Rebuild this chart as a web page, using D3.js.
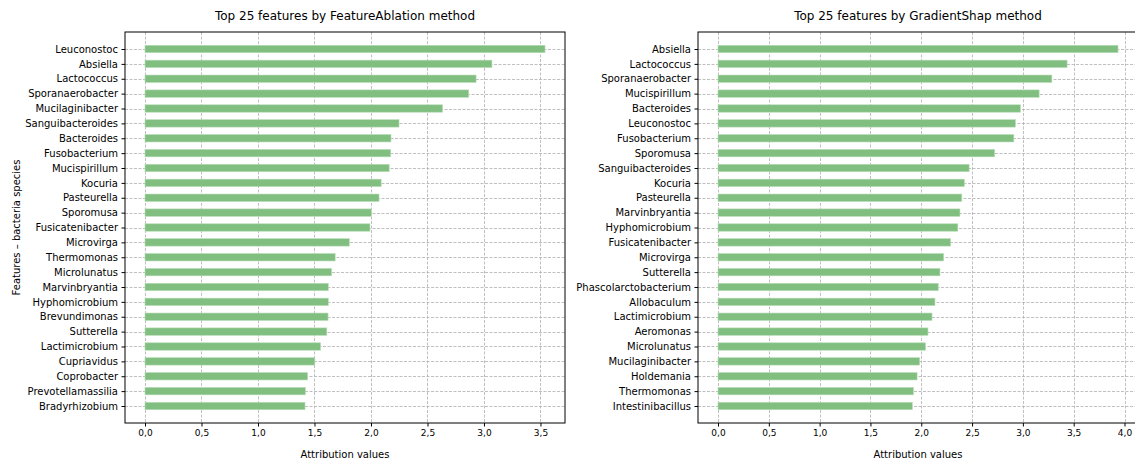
<!DOCTYPE html>
<html>
<head>
<meta charset="utf-8">
<script src="https://cdn.jsdelivr.net/npm/d3@7"></script>
<style>
  html, body { margin: 0; padding: 0; background: #fff; }
  svg { display: block; font-family: "DejaVu Sans", sans-serif; }
</style>
</head>
<body>
<svg id="chart" width="1135" height="460"></svg>
<script>
// ---- data ----
const ablationFeatures = ["Leuconostoc","Absiella","Lactococcus","Sporanaerobacter","Mucilaginibacter","Sanguibacteroides","Bacteroides","Fusobacterium","Mucispirillum","Kocuria","Pasteurella","Sporomusa","Fusicatenibacter","Microvirga","Thermomonas","Microlunatus","Marvinbryantia","Hyphomicrobium","Brevundimonas","Sutterella","Lactimicrobium","Cupriavidus","Coprobacter","Prevotellamassilia","Bradyrhizobium"];
const ablationValues = [3.54,3.07,2.93,2.865,2.633,2.248,2.177,2.174,2.161,2.09,2.071,2.004,1.991,1.808,1.683,1.651,1.622,1.622,1.62,1.609,1.554,1.503,1.439,1.419,1.416];

const shapFeatures = ["Absiella","Lactococcus","Sporanaerobacter","Mucispirillum","Bacteroides","Leuconostoc","Fusobacterium","Sporomusa","Sanguibacteroides","Kocuria","Pasteurella","Marvinbryantia","Hyphomicrobium","Fusicatenibacter","Microvirga","Sutterella","Phascolarctobacterium","Allobaculum","Lactimicrobium","Aeromonas","Microlunatus","Mucilaginibacter","Holdemania","Thermomonas","Intestinibacillus"];
const shapValues = [3.936,3.435,3.285,3.16,2.976,2.926,2.911,2.722,2.471,2.424,2.399,2.381,2.36,2.288,2.22,2.184,2.167,2.135,2.106,2.066,2.041,1.984,1.959,1.923,1.912];

const ablationTicks = [0,0.5,1,1.5,2,2.5,3,3.5];
const shapTicks = [0,0.5,1,1.5,2,2.5,3,3.5,4];

const titles = ["Top 25 features by FeatureAblation method", "Top 25 features by GradientShap method"];
const xLabel = "Attribution values";
const yLabel = "Features \u2013 bacteria species";

// ---- drawing ----
const svg = d3.select("#chart");
const fmt = v => d3.format(".1f")(v).replace(".", ",");

function panel(left, features, values, ticks, title, showYLabel) {
  const top = 32, bottom = 423, width = 440;
  const g = svg.append("g");
  const xmax = d3.max(values);
  const x = d3.scaleLinear().domain([-0.05 * xmax, 1.05 * xmax]).range([left, left + width]);
  const y = d3.scalePoint().domain(features).range([top, bottom]).padding(1.143);
  const bh = y.step() * 0.5;

  // grid
  g.append("g").selectAll("line.vx").data(ticks).join("line")
    .attr("x1", d => Math.round(x(d)) + 0.5).attr("x2", d => Math.round(x(d)) + 0.5)
    .attr("y1", top).attr("y2", bottom)
    .attr("stroke", "#b0b0b0").attr("stroke-width", 0.8).attr("stroke-dasharray", "3,1.5");
  g.append("g").selectAll("line.hy").data(features).join("line")
    .attr("x1", left).attr("x2", left + width)
    .attr("y1", d => Math.round(y(d)) + 0.5).attr("y2", d => Math.round(y(d)) + 0.5)
    .attr("stroke", "#b0b0b0").attr("stroke-width", 0.8).attr("stroke-dasharray", "3,1.5");

  // bars
  g.append("g").selectAll("rect").data(features).join("rect")
    .attr("x", x(0))
    .attr("y", d => y(d) - bh / 2)
    .attr("width", (d, i) => x(values[i]) - x(0))
    .attr("height", bh)
    .attr("fill", "#80bf80")
    .attr("stroke", "#b8dcb8").attr("stroke-width", 0.6);

  // frame
  g.append("rect").attr("x", left).attr("y", top).attr("width", width).attr("height", bottom - top)
    .attr("fill", "none").attr("stroke", "#000").attr("stroke-width", 1);

  // x axis
  const xa = d3.axisBottom(x).tickValues(ticks).tickFormat(fmt).tickSize(3.5).tickPadding(3.5);
  const xg = g.append("g").attr("transform", `translate(0,${bottom})`).call(xa);
  xg.select(".domain").remove();
  xg.selectAll("text").attr("font-size", 9).attr("font-family", "DejaVu Sans").attr("fill", "#000");
  xg.selectAll("line").attr("stroke", "#000");

  // y axis
  const ya = d3.axisLeft(y).tickSize(3.5).tickPadding(3.5);
  const yg = g.append("g").attr("transform", `translate(${left},0)`).call(ya);
  yg.select(".domain").remove();
  yg.selectAll("text").attr("font-size", 10).attr("font-family", "DejaVu Sans").attr("fill", "#000");
  yg.selectAll("line").attr("stroke", "#000");

  // title
  g.append("text").attr("x", left + width / 2).attr("y", 20).attr("text-anchor", "middle")
    .attr("font-size", 12).attr("fill", "#000").text(title);
  // x label
  g.append("text").attr("x", left + width / 2).attr("y", 458).attr("text-anchor", "middle")
    .attr("font-size", 10).attr("fill", "#000").text(xLabel);
  if (showYLabel) {
    g.append("text").attr("transform", `translate(20,${(top + bottom) / 2}) rotate(-90)`)
      .attr("text-anchor", "middle").attr("font-size", 10).attr("fill", "#000").text(yLabel);
  }
}

panel(125, ablationFeatures, ablationValues, ablationTicks, titles[0], true);
panel(698, shapFeatures, shapValues, shapTicks, titles[1], false);
</script>
</body>
</html>
